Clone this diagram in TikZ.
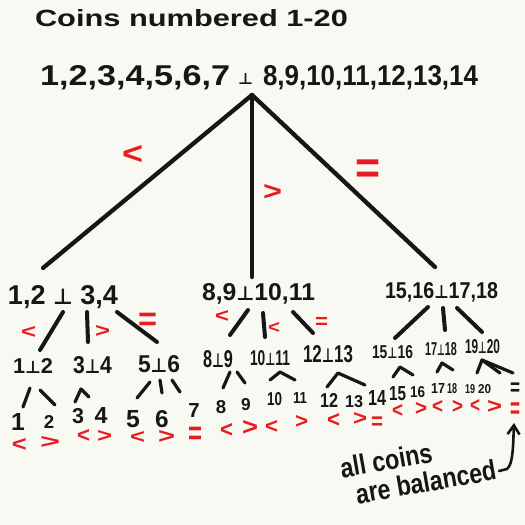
\documentclass[tikz,border=0pt]{standalone}
\usepackage{fontspec}
\setmainfont{Liberation Sans}
\newfontfamily\symfont{DejaVu Sans}
\usepackage{graphicx}
\usetikzlibrary{arrows.meta}
\definecolor{paper}{RGB}{249,249,244}
\definecolor{ink}{RGB}{22,22,22}
\definecolor{sigred}{RGB}{232,28,30}
\newcommand{\fitw}[3]{\resizebox{#1pt}{#2pt}{#3}}
\newcommand{\fith}[2]{\resizebox{!}{#1pt}{#2}}
\newcommand{\perpsym}{{\symfont\bfseries\scalebox{0.8}{⊥}}}
\newcommand{\EQ}{\raisebox{-0.19em}{=}}
\begin{document}
\begin{tikzpicture}[x=1pt,y=-1pt,
  hw/.style={inner sep=0pt,outer sep=0pt,anchor=base west,text=ink,font=\bfseries},
  hwc/.style={hw,anchor=base},
  sg/.style={hw,text=sigred},
  big/.style={draw=ink,line width=4.3pt,line cap=round},
  mid/.style={draw=ink,line width=4pt,line cap=round},
  small/.style={draw=ink,line width=3.2pt,line cap=round,line join=round},
  arrowline/.style={draw=ink,line width=2.6pt,line cap=round,line join=round,
    -{Straight Barb[length=9pt,width=12pt]}}]
\fill[paper] (0,0) rectangle (525,525);
\useasboundingbox (0,0) rectangle (525,525);

% title and root
\node[hw] (title) at (35,26) {\fitw{313}{17}{Coins numbered 1-20}};
\node[hw] (rootL) at (40,85) {\fitw{190}{20}{1,2,3,4,5,6,7}};
\node[hw] (rootP) at (238,84) {\fitw{15}{11}{\perpsym}};
\node[hw] (rootR) at (263,85) {\fitw{215}{20}{8,9,10,11,12,13,14}};

% level 1 connectors
\coordinate (apex) at (252,95);
\coordinate (t1) at (43,268);
\coordinate (t2) at (252,277);
\coordinate (t3) at (435,267);
\draw[big] (apex) -- (t1);
\draw[big] (apex) -- (t2);
\draw[big] (apex) -- (t3);
\node[sg] (s0a) at (122,164) {\fitw{21}{19}{<}};
\node[sg] (s0b) at (263,200) {\fitw{19}{16}{>}};
\node[sg] (s0c) at (355,175) {\fitw{25}{15}{\EQ}};

% level 2 nodes
\node[hw] (L) at (8,304) {\fitw{110}{19}{1,2 \perpsym\ 3,4}};
\node[hw] (M) at (202,300) {\fitw{113}{17}{8,9\perpsym 10,11}};
\node[hw] (R) at (385,298) {\fitw{113}{16}{15,16\perpsym 17,18}};

% level 2 connectors
\coordinate (Lt1) at (63,312);  \coordinate (Lb1) at (40,350);
\coordinate (Lt2) at (87,312);  \coordinate (Lb2) at (88,342);
\coordinate (Lt3) at (117,312); \coordinate (Lb3) at (157,342);
\coordinate (Mt1) at (248,310); \coordinate (Mb1) at (230,335);
\coordinate (Mt2) at (263,313); \coordinate (Mb2) at (265,337);
\coordinate (Mt3) at (293,312); \coordinate (Mb3) at (313,333);
\coordinate (Rt1) at (428,307); \coordinate (Rb1) at (395,338);
\coordinate (Rt2) at (443,308); \coordinate (Rb2) at (445,330);
\coordinate (Rt3) at (457,308); \coordinate (Rb3) at (482,332);
\foreach \p in {L,M,R}{\foreach \i in {1,2,3}{\draw[mid] (\p t\i) -- (\p b\i);}}
\node[sg] (s1a) at (21,338) {\fitw{15}{12}{<}};
\node[sg] (s1b) at (95,337) {\fitw{15}{12}{>}};
\node[sg] (s1c) at (138,324) {\fitw{19}{11}{\EQ}};
\node[sg] (s2a) at (215,322) {\fitw{14}{12}{<}};
\node[sg] (s2b) at (268,333) {\fitw{12}{11}{<}};
\node[sg] (s2c) at (315,324) {\fitw{13}{7}{\EQ}};

% level 3 nodes
\node[hw] (L1) at (13,373) {\fitw{40}{15}{1\perpsym 2}};
\node[hw] (L2) at (73,373) {\fitw{39}{17}{3\perpsym 4}};
\node[hw] (L3) at (138,372) {\fitw{42}{17}{5\perpsym 6}};
\node[hw] (M1) at (203,367) {\fitw{30}{17}{8\perpsym 9}};
\node[hw] (M2) at (250,365) {\fitw{40}{15}{10\perpsym 11}};
\node[hw] (M3) at (303,362) {\fitw{50}{17}{12\perpsym 13}};
\node[hw] (R1) at (372,358) {\fitw{41}{13}{15\perpsym 16}};
\node[hw] (R2) at (425,355) {\fitw{32}{13}{17\perpsym 18}};
\node[hw] (R3) at (465,353) {\fitw{35}{14}{19\perpsym 20}};

% level 3 carets
\coordinate (ka1) at (23,407); \coordinate (ka2) at (30,388);
\coordinate (kb1) at (40,390); \coordinate (kb2) at (55,405);
\draw[small] (ka1) -- (ka2); \draw[small] (kb1) -- (kb2);
\coordinate (kc1) at (75,402); \coordinate (kc2) at (81,389); \coordinate (kc3) at (89,397);
\draw[small] (kc1) -- (kc2) -- (kc3);
\coordinate (kd1) at (137,398); \coordinate (kd2) at (150,382);
\coordinate (ke1) at (160,380); \coordinate (ke2) at (162,393);
\coordinate (kf1) at (172,380); \coordinate (kf2) at (180,392);
\draw[small] (kd1) -- (kd2); \draw[small] (ke1) -- (ke2); \draw[small] (kf1) -- (kf2);
\coordinate (kg1) at (230,372); \coordinate (kg2) at (223,388);
\coordinate (kh1) at (237,372); \coordinate (kh2) at (245,383);
\draw[small] (kg1) -- (kg2); \draw[small] (kh1) -- (kh2);
\coordinate (ki1) at (270,380); \coordinate (ki2) at (280,372); \coordinate (ki3) at (295,380);
\draw[small] (ki1) -- (ki2) -- (ki3);
\coordinate (kj1) at (327,387); \coordinate (kj2) at (338,373); \coordinate (kj3) at (365,385);
\draw[small] (kj1) -- (kj2) -- (kj3);
\coordinate (kk1) at (393,377); \coordinate (kk2) at (400,367); \coordinate (kk3) at (413,375);
\draw[small] (kk1) -- (kk2) -- (kk3);
\coordinate (kl1) at (437,372); \coordinate (kl2) at (442,363); \coordinate (kl3) at (453,370);
\draw[small] (kl1) -- (kl2) -- (kl3);
\coordinate (km1) at (477,373); \coordinate (km2) at (482,360); \coordinate (km3) at (513,373);
\coordinate (km4) at (500,373);
\draw[small] (km1) -- (km2) -- (km3); \draw[small] (km2) -- (km4);

% level 4 coins
\node[hwc] (d1) at (18,430) {\fith{17}{1}};
\node[hwc] (d2) at (49,428) {\fith{13}{2}};
\node[hwc] (d3) at (78,423) {\fith{15}{3}};
\node[hwc] (d4) at (101,423) {\fith{16}{4}};
\node[hwc] (d5) at (133,427) {\fith{17}{5}};
\node[hwc] (d6) at (162,427) {\fith{17}{6}};
\node[hwc] (d7) at (194,417) {\fith{14}{7}};
\node[hwc] (d8) at (221,413) {\fith{13}{8}};
\node[hwc] (d9) at (246,410) {\fith{12}{9}};
\node[hw] (d10) at (267,405) {\fitw{15}{13}{10}};
\node[hw] (d11) at (293,403) {\fitw{14}{11}{11}};
\node[hw] (d12) at (320,407) {\fitw{18}{14}{12}};
\node[hw] (d13) at (345,407) {\fitw{18}{12}{13}};
\node[hw] (d14) at (368,405) {\fitw{18}{15}{14}};
\node[hw] (d15) at (389,400) {\fitw{17}{14}{15}};
\node[hw] (d16) at (410,397) {\fitw{15}{11}{16}};
\node[hw] (d17) at (431,393) {\fitw{14}{10}{17}};
\node[hw] (d18) at (447,393) {\fitw{10}{10}{18}};
\node[hw] (d19) at (465,393) {\fitw{10}{9}{19}};
\node[hw] (d20) at (478,393) {\fitw{13}{9}{20}};
\node[hw] (eqb) at (510,391) {\fitw{10}{8}{\EQ}};

% level 4 results
\node[sg] (c1) at (12,451) {\fitw{15}{13}{<}};
\node[sg] (c2) at (40,448) {\fitw{20}{12}{>}};
\node[sg] (c3) at (77,442) {\fitw{13}{13}{<}};
\node[sg] (c4) at (97,442) {\fitw{15}{12}{>}};
\node[sg] (c5) at (130,443) {\fitw{15}{12}{<}};
\node[sg] (c6) at (158,443) {\fitw{17}{13}{>}};
\node[sg] (c7) at (188,438) {\fitw{14}{11}{\EQ}};
\node[sg] (c8) at (220,437) {\fitw{13}{14}{<}};
\node[sg] (c9) at (242,435) {\fitw{16}{15}{>}};
\node[sg] (c10) at (265,433) {\fitw{13}{13}{<}};
\node[sg] (c11) at (295,428) {\fitw{13}{13}{>}};
\node[sg] (c12) at (327,427) {\fitw{13}{14}{<}};
\node[sg] (c13) at (353,425) {\fitw{14}{13}{>}};
\node[sg] (c14) at (371,425) {\fitw{12}{8}{\EQ}};
\node[sg] (c15) at (392,417) {\fitw{11}{13}{<}};
\node[sg] (c16) at (415,415) {\fitw{12}{13}{>}};
\node[sg] (c17) at (432,413) {\fitw{11}{13}{<}};
\node[sg] (c18) at (452,413) {\fitw{11}{13}{>}};
\node[sg] (c19) at (470,412) {\fitw{10}{13}{<}};
\node[sg] (c20) at (487,413) {\fitw{15}{13}{>}};
\node[sg] (c21) at (510,413) {\fitw{10}{10}{\EQ}};

% annotation
\node[hw,rotate=10] (note) at (342,478)
  {\scalebox{0.83}[1]{\fontsize{28}{27}\selectfont\begin{tabular}[t]{@{}l@{}}all coins\\\hspace*{13pt}are balanced\end{tabular}}};
\coordinate (arrS) at (499,471);
\coordinate (arrE) at (514,423);
\draw[arrowline] (arrS) -- (507,469) .. controls (513,464) and (513,448) .. (arrE);
\end{tikzpicture}
\end{document}
